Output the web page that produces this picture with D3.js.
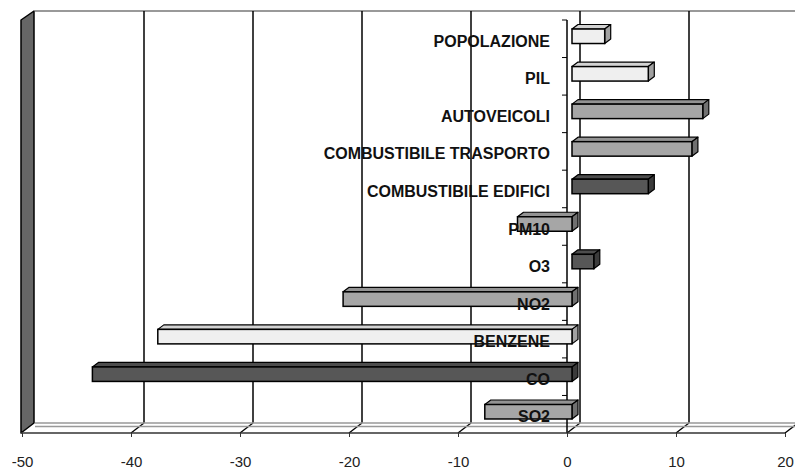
<!DOCTYPE html>
<html>
<head>
<meta charset="utf-8">
<script src="https://cdn.jsdelivr.net/npm/d3@7"></script>
<style>
  body { margin: 0; background: #fff; }
  text { font-family: "Liberation Sans", Arial, sans-serif; }
</style>
</head>
<body>
<div id="canvas"></div>
<script>
var width = 795;
var height = 470;

// data (top to bottom)
var categories = ["POPOLAZIONE", "PIL", "AUTOVEICOLI", "COMBUSTIBILE TRASPORTO",
                  "COMBUSTIBILE EDIFICI", "PM10", "O3", "NO2", "BENZENE", "CO", "SO2"];
var values = [3, 7, 12, 11, 7, -5, 2, -21, -38, -44, -8];
var shades = ["light", "light", "mid", "mid", "dark", "mid", "dark", "mid", "light", "dark", "mid"];
var xTicks = [-50, -40, -30, -20, -10, 0, 10, 20];

var shadeColor = { light: "#efefef", mid: "#a6a6a6", dark: "#575757" };

// 3d depth of the plot box and of the bars
var depth = { dx: 13, dy: -10 };
var barOff = 5, barDx = 6, barDy = -4.5, barH = 14.5;

var svg = d3.select("#canvas").append("svg")
      .attr("width", width)
      .attr("height", height);

var x = d3.scaleLinear().domain([-50, 20]).range([22, 785]);
var y = d3.scaleBand().domain(categories).range([20, 433]);
var floorY = 433;
var topY = 11;

// top border of the back wall
svg.append("line")
    .attr("x1", x(-50) + depth.dx).attr("x2", width)
    .attr("y1", topY).attr("y2", topY)
    .attr("stroke", "#999").attr("stroke-width", 2);

// gridlines on back wall + slanted floor ticks
xTicks.filter(d => d > -50).forEach(function(t) {
  var bx = x(t) + depth.dx;
  svg.append("line")
      .attr("x1", bx).attr("x2", bx)
      .attr("y1", topY).attr("y2", floorY + depth.dy)
      .attr("stroke", "#000").attr("stroke-width", 1.5);
  svg.append("line")
      .attr("x1", x(t)).attr("y1", floorY)
      .attr("x2", bx).attr("y2", floorY + depth.dy)
      .attr("stroke", "#000").attr("stroke-width", 1.3);
});

// floor edges
svg.append("line")
    .attr("x1", x(-50) + depth.dx).attr("x2", width)
    .attr("y1", floorY + depth.dy).attr("y2", floorY + depth.dy)
    .attr("stroke", "#999").attr("stroke-width", 1.3);
svg.append("line")
    .attr("x1", x(-50) + depth.dx).attr("x2", width)
    .attr("y1", floorY + depth.dy + 3.5).attr("y2", floorY + depth.dy + 3.5)
    .attr("stroke", "#999").attr("stroke-width", 1.3);

// left side wall
svg.append("polygon")
    .attr("points", [[x(-50) - 1, 20], [x(-50) + depth.dx - 1, topY],
                     [x(-50) + depth.dx - 1, floorY + depth.dy], [x(-50) - 1, floorY]].join(" "))
    .attr("fill", "#666").attr("stroke", "#000").attr("stroke-width", 1.5)
    .attr("stroke-linejoin", "round");

// category axis at zero
var ax = x(0);
svg.append("line")
    .attr("x1", ax).attr("x2", ax)
    .attr("y1", y.range()[0]).attr("y2", y.range()[1])
    .attr("stroke", "#000").attr("stroke-width", 1.5);
categories.forEach(function(c) {
  svg.append("line")
      .attr("x1", ax - 5).attr("x2", ax)
      .attr("y1", y(c)).attr("y2", y(c))
      .attr("stroke", "#000").attr("stroke-width", 1);
});

// bars
var bars = svg.selectAll("g.bar")
    .data(categories.map((c, i) => ({ cat: c, v: values[i], col: shadeColor[shades[i]] })))
    .enter().append("g")
    .attr("class", "bar");

bars.each(function(d) {
  var g = d3.select(this);
  var left = Math.min(x(0), x(d.v)) + barOff;
  var right = Math.max(x(0), x(d.v)) + barOff;
  var y0 = y(d.cat) + y.bandwidth() / 2 - 2.5 - barH / 2;
  var c = d3.color(d.col);

  g.append("polygon")
      .attr("points", [[left, y0], [left + barDx, y0 + barDy], [right + barDx, y0 + barDy], [right, y0]].join(" "))
      .attr("fill", c.darker(0.35)).attr("stroke", "#000").attr("stroke-width", 1.2)
      .attr("stroke-linejoin", "round");
  g.append("polygon")
      .attr("points", [[right, y0], [right + barDx, y0 + barDy], [right + barDx, y0 + barDy + barH], [right, y0 + barH]].join(" "))
      .attr("fill", c.darker(1.1)).attr("stroke", "#000").attr("stroke-width", 1.2)
      .attr("stroke-linejoin", "round");
  g.append("rect")
      .attr("x", left).attr("y", y0)
      .attr("width", right - left).attr("height", barH)
      .attr("fill", d.col).attr("stroke", "#000").attr("stroke-width", 1.5);
});

// category labels
svg.selectAll("text.cat")
    .data(categories)
    .enter().append("text")
    .attr("class", "cat")
    .attr("x", 550)
    .attr("y", d => y(d) + y.bandwidth() / 2 + 8)
    .attr("text-anchor", "end")
    .attr("font-size", 16)
    .attr("font-weight", "bold")
    .attr("fill", "#111")
    .text(d => d);

// front value axis
var xAxis = d3.axisBottom(x)
    .tickValues(xTicks)
    .tickFormat(d => String(d))
    .tickSize(4)
    .tickPadding(19)
    .tickSizeOuter(0);

var gx = svg.append("g")
    .attr("transform", "translate(0," + floorY + ")")
    .call(xAxis);
gx.select(".domain").attr("stroke", "#333").attr("stroke-width", 1.5)
    .attr("d", "M" + (x(-50) - 1) + ",0H" + x(20));
gx.selectAll(".tick line").attr("stroke", "#333");
gx.selectAll(".tick text")
    .attr("font-size", 15)
    .attr("font-family", "'Liberation Sans', Arial, sans-serif")
    .attr("fill", "#222");
</script>
</body>
</html>
